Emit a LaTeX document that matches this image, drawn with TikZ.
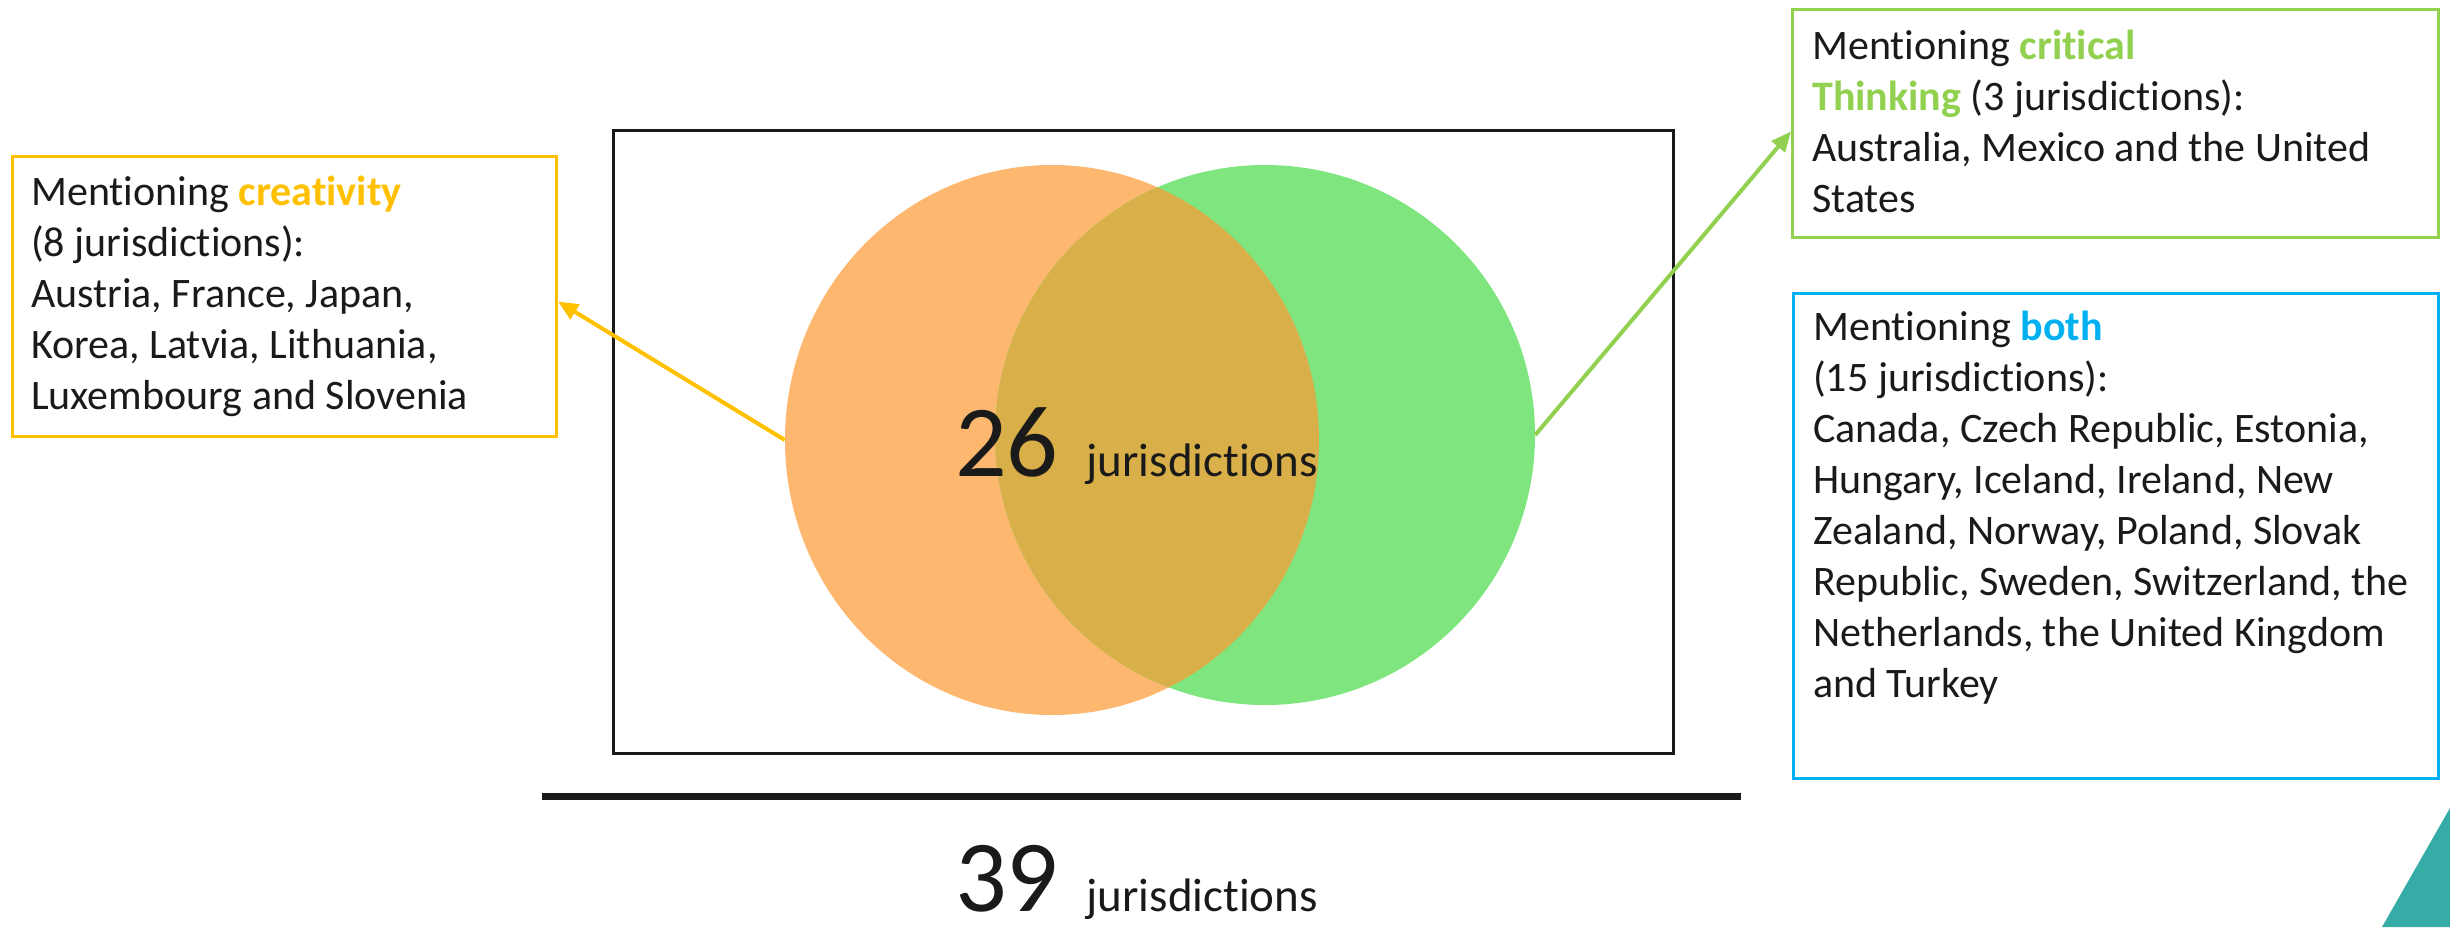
\documentclass[tikz,border=0pt]{standalone}
\usepackage{fontspec}
\setmainfont{Carlito}[Ligatures={NoCommon,NoRequired,NoContextual},RawFeature={-liga;-clig;-calt;-rlig;-dlig}]
\usetikzlibrary{shapes.geometric,arrows.meta}
\definecolor{cgold}{HTML}{FFC000}
\definecolor{cgreen}{HTML}{92D050}
\definecolor{cblue}{HTML}{00B0F0}
\definecolor{orangefill}{HTML}{FDB76E}
\definecolor{greenfill}{HTML}{7FE67F}
\definecolor{overlapfill}{HTML}{D8AF48}
\definecolor{tealfill}{HTML}{35ADA6}
\definecolor{ink}{HTML}{1A1A1A}
\begin{document}
\begin{tikzpicture}[x=1pt,y=-1pt,
  infobox/.style={draw=#1, line width=3pt, anchor=north west, inner sep=0pt},
  infotext/.style={anchor=north west, inner sep=0pt, align=left, text=ink, font=\fontsize{42}{51}\selectfont},
  callout/.style={draw=#1, line width=4pt, -{Triangle[length=20pt,width=17pt,fill=#1]}},
  venn/.style={ellipse, fill=#1, draw=none, inner sep=0pt},
  bigcount/.style={anchor=base west, inner sep=0pt, text=ink}
]
\useasboundingbox (0,0) rectangle (2450,927);

% frame
\node[draw=ink, line width=2.5pt, minimum width=1060pt, minimum height=623pt, anchor=north west, inner sep=0pt] (frame) at (612,129) {};

% venn
\node[venn=orangefill, minimum width=534pt, minimum height=550pt] (oell) at (1052,440) {};
\node[venn=greenfill, minimum width=540pt, minimum height=540pt] (gell) at (1265,435) {};
\begin{scope}
  \clip (1052,440) ellipse [x radius=267pt, y radius=275pt];
  \fill[overlapfill] (1265,435) ellipse [x radius=270pt, y radius=270pt];
\end{scope}

\node[bigcount] (count26) at (955,476) {{\fontsize{102}{110}\selectfont 26}\hspace{28pt}{\fontsize{47}{56}\selectfont jurisdictions}};

% info boxes
\node[infobox=cgold, minimum width=544pt, minimum height=280pt] (cbox) at (11,155) {};
\node[infotext] (ctext) at (31,171) {\rule{0pt}{34pt}Mentioning \textbf{\color{cgold}creativity}\\(8 jurisdictions):\\Austria, France, Japan,\\Korea, Latvia, Lithuania,\\Luxembourg and Slovenia};

\node[infobox=cgreen, minimum width=646pt, minimum height=228pt] (tbox) at (1791,8) {};
\node[infotext] (ttext) at (1812,25) {\rule{0pt}{34pt}Mentioning \textbf{\color{cgreen}critical}\\\textbf{\color{cgreen}Thinking} (3 jurisdictions):\\Australia, Mexico and the United\\States};

\node[infobox=cblue, minimum width=645pt, minimum height=485pt] (bbox) at (1792,292) {};
\node[infotext] (btext) at (1813,306) {\rule{0pt}{34pt}Mentioning \textbf{\color{cblue}both}\\(15 jurisdictions):\\Canada, Czech Republic, Estonia,\\Hungary, Iceland, Ireland, New\\Zealand, Norway, Poland, Slovak\\Republic, Sweden, Switzerland, the\\Netherlands, the United Kingdom\\and Turkey};

% callout arrows
\draw[callout=cgold] (oell.west) -- ([yshift=-5pt]cbox.east);
\draw[callout=cgreen] (gell.east) -- ([yshift=-8pt]tbox.west);

% total line
\coordinate (bl) at (542,796.5);
\coordinate (br) at (1741,796.5);
\draw[line width=7pt, ink] (bl) -- (br);
\node[bigcount] (count39) at (955,911) {{\fontsize{102}{110}\selectfont 39}\hspace{28pt}{\fontsize{47}{56}\selectfont jurisdictions}};

% corner decoration
\fill[tealfill] (2450,808) -- (2382,927) -- (2450,927) -- cycle;
\end{tikzpicture}
\end{document}
